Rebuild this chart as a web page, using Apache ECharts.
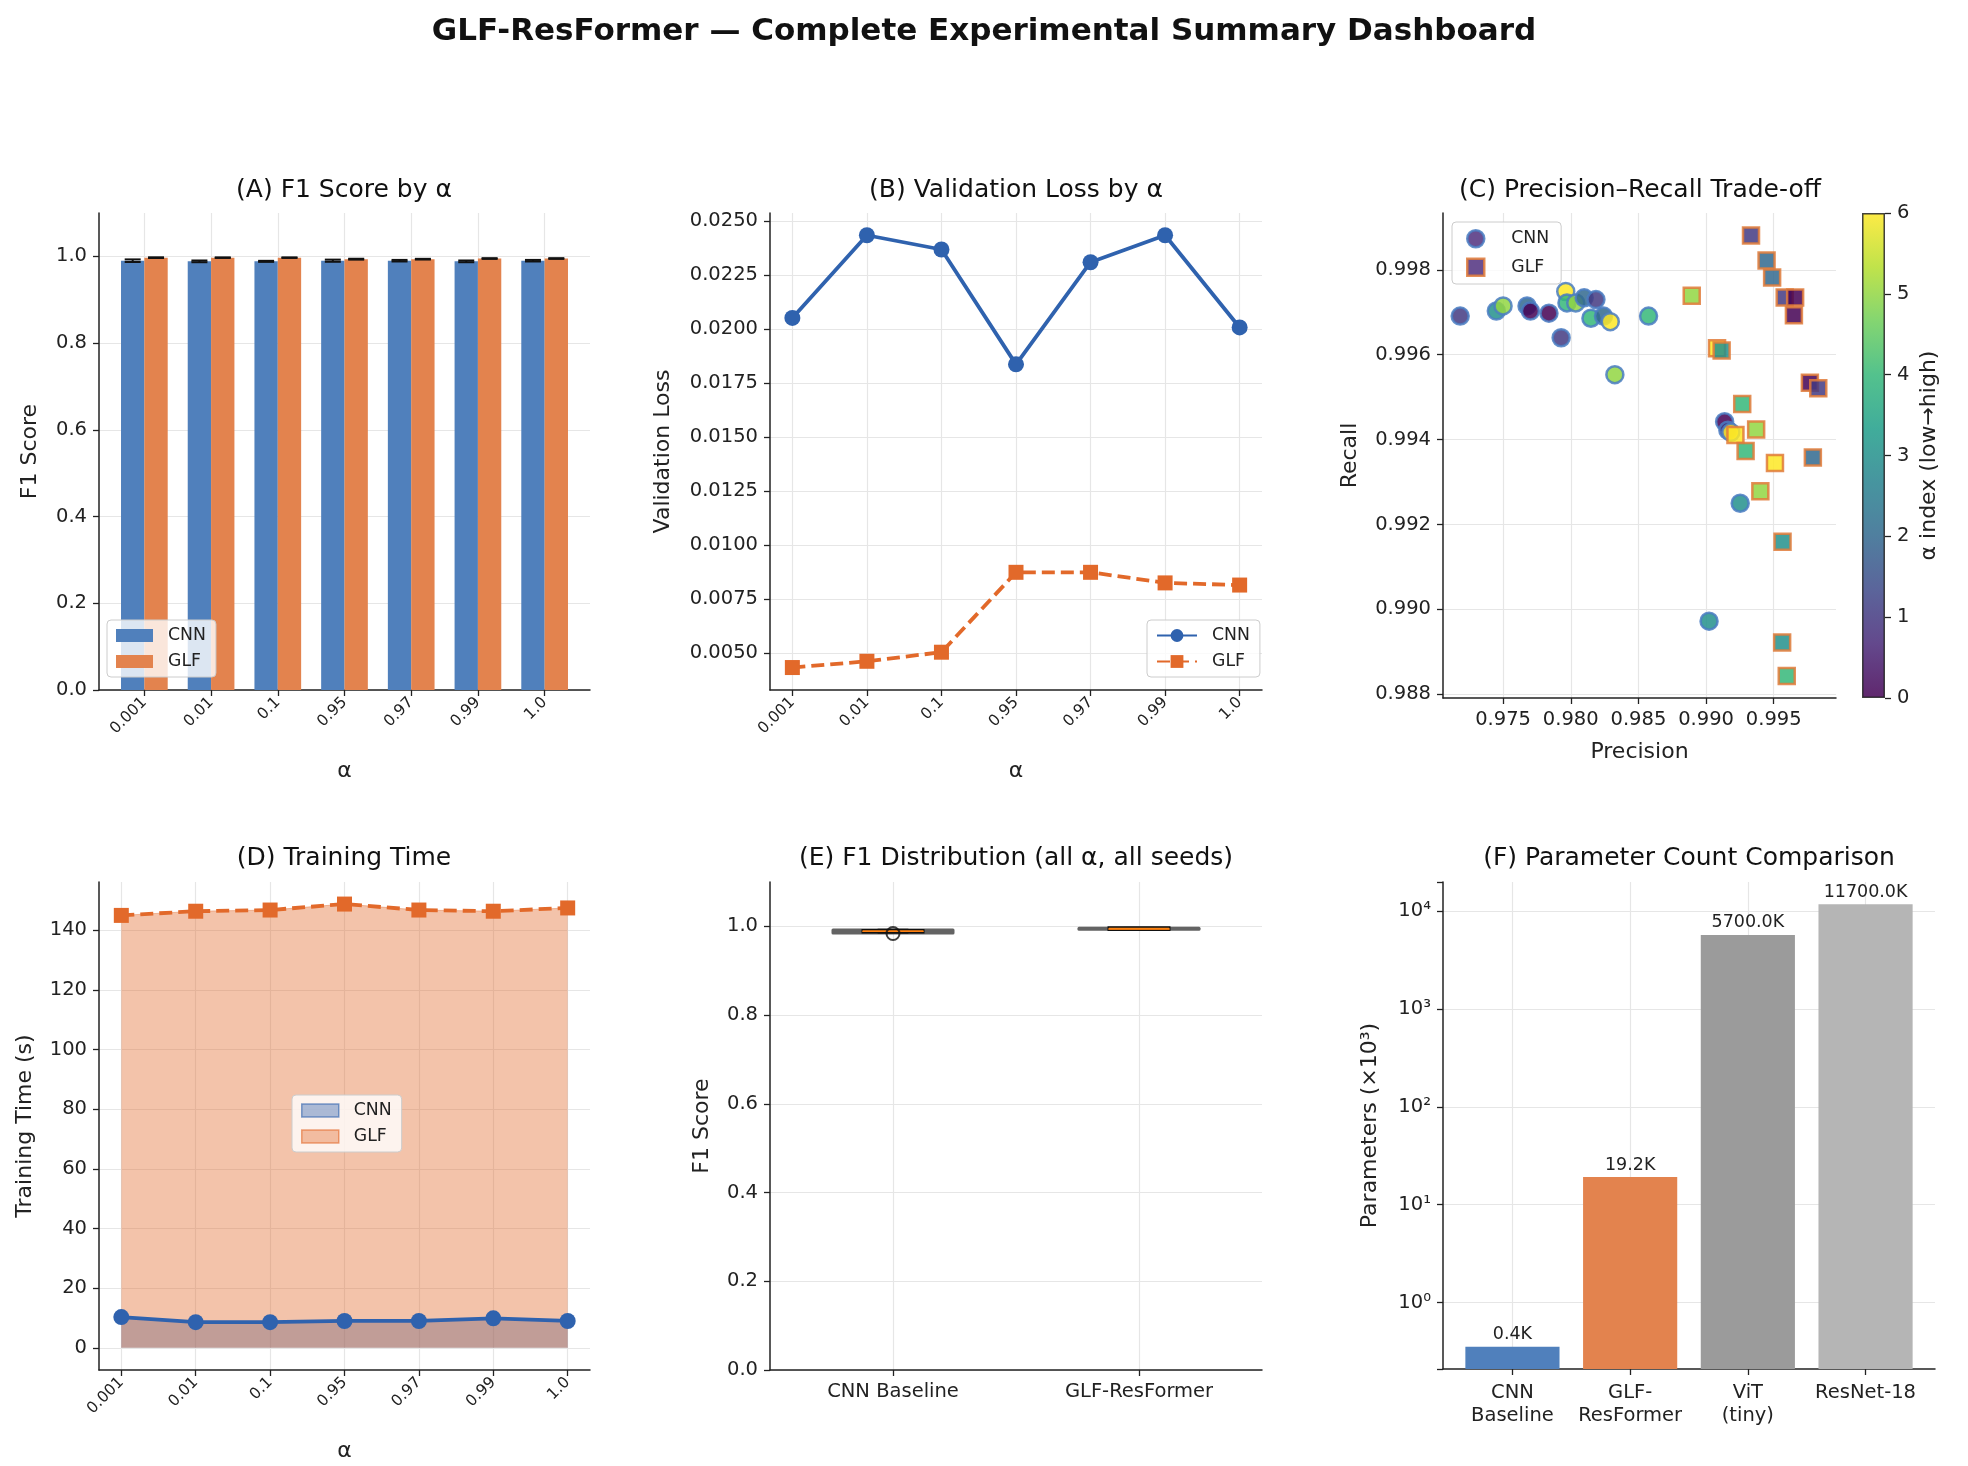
<!DOCTYPE html>
<html>
<head>
<meta charset="utf-8">
<title>GLF-ResFormer — Complete Experimental Summary Dashboard</title>
<script src="https://cdn.jsdelivr.net/npm/echarts@6/dist/echarts.min.js"></script>
<style>
  html, body { margin: 0; padding: 0; background: #fff; }
  #main { width: 1968px; height: 1466px; }
</style>
</head>
<body>
<div id="main"></div>
<script>
// alpha values shared by panels A, B and D
const alphaLabels = ['0.001', '0.01', '0.1', '0.95', '0.97', '0.99', '1.0']

// (A) mean F1 per alpha and std over seeds
const cnnF1Mean = [0.9900, 0.9885, 0.9885, 0.9900, 0.9900, 0.9885, 0.9900]
const cnnF1Std = [0.0030, 0.0020, 0.0012, 0.0025, 0.0018, 0.0020, 0.0018]
const glfF1Mean = [0.9970, 0.9970, 0.9970, 0.9935, 0.9935, 0.9950, 0.9950]
const glfF1Std = [0.0008, 0.0006, 0.0006, 0.0010, 0.0008, 0.0008, 0.0008]
const f1Ticks = [0, 0.2, 0.4, 0.6, 0.8, 1.0]

// (B) validation loss per alpha
const cnnValLoss = [0.02052, 0.02435, 0.02369, 0.01837, 0.02310, 0.02435, 0.02008]
const glfValLoss = [0.00433, 0.00462, 0.00504, 0.00874, 0.00874, 0.00825, 0.00815]
const lossTicks = [0.005, 0.0075, 0.01, 0.0125, 0.015, 0.0175, 0.02, 0.0225, 0.025]

// (C) precision / recall of every run, with its alpha index
const cnnPrecision = [0.97183, 0.97450, 0.97500, 0.97677, 0.97702, 0.97839, 0.97929, 0.97963, 0.97972, 0.98037, 0.98099,
  0.98186, 0.98149, 0.98242, 0.98292, 0.98326, 0.98575, 0.99137, 0.99161, 0.99183, 0.99252, 0.99022]
const cnnRecall = [0.99691, 0.99703, 0.99715, 0.99715, 0.99703, 0.99698, 0.99640, 0.99749, 0.99722, 0.99722, 0.99734,
  0.99730, 0.99686, 0.99691, 0.99678, 0.99553, 0.99691, 0.99442, 0.99422, 0.99417, 0.99250, 0.98972]
const cnnAlphaIdx = [1, 3, 5, 2, 0, 0, 1, 6, 4, 5, 2, 1, 4, 2, 6, 5, 4, 0, 1, 6, 3, 3]
const glfPrecision = [0.99332, 0.99447, 0.99488, 0.99581, 0.99658, 0.99649, 0.98894, 0.99081, 0.99115, 0.99767, 0.99829,
  0.99267, 0.99370, 0.99217, 0.99292, 0.99509, 0.99789, 0.99401, 0.99565, 0.99562, 0.99596]
const glfRecall = [0.99881, 0.99822, 0.99782, 0.99735, 0.99735, 0.99693, 0.99739, 0.99615, 0.99610, 0.99534, 0.99521,
  0.99484, 0.99424, 0.99411, 0.99373, 0.99345, 0.99358, 0.99278, 0.99159, 0.98922, 0.98843]
const glfAlphaIdx = [1, 2, 2, 1, 0, 0, 5, 6, 3, 0, 1, 4, 5, 6, 4, 6, 2, 5, 3, 3, 4]
const precisionTicks = [0.975, 0.980, 0.985, 0.990, 0.995]
const recallTicks = [0.988, 0.990, 0.992, 0.994, 0.996, 0.998]

// (D) training time in seconds
const cnnTrainTime = [10.3, 8.6, 8.6, 9.0, 9.0, 9.9, 9.0]
const glfTrainTime = [145.0, 146.4, 146.8, 148.8, 146.8, 146.4, 147.5]
const timeTicks = [0, 20, 40, 60, 80, 100, 120, 140]

// (E) F1 of every run
const boxModels = ['CNN Baseline', 'GLF-ResFormer']
const cnnF1All = [0.9838, 0.9856, 0.9860, 0.9869, 0.9869, 0.9876, 0.9878, 0.9885, 0.9884, 0.9887, 0.9891,
  0.9895, 0.9891, 0.9896, 0.9898, 0.9894, 0.9913, 0.9929, 0.9929, 0.9930, 0.9925, 0.9900]
const glfF1All = [0.9961, 0.9963, 0.9964, 0.9966, 0.9970, 0.9967, 0.9932, 0.9935, 0.9936, 0.9965, 0.9968,
  0.9938, 0.9940, 0.9931, 0.9933, 0.9943, 0.9957, 0.9934, 0.9936, 0.9924, 0.9922]

// (F) parameter count in thousands
const paramModels = ['CNN\nBaseline', 'GLF-\nResFormer', 'ViT\n(tiny)', 'ResNet-18']
const paramCounts = [0.354, 19.2, 5700, 11700]

// styles
const ink = '#222'
const font = 'DejaVu Sans'
const cnnBar = '#5080BC', glfBar = '#E3834E'
const cnnLine = '#2F62AE', glfLine = '#E2692A'
const paramColors = ['#5080BC', '#E3834E', '#9B9B9B', '#B5B5B5']
const viridis = ['#440154', '#482878', '#3e4989', '#31688e', '#26828e', '#1f9e89', '#35b779', '#6ece58', '#b5de2b', '#fde725']
const sup = ['⁰', '¹', '²', '³', '⁴', '⁵']
const alphaIdx = alphaLabels.map((_, i) => i)

function axis(opt) {
  const a = {
    nameLocation: 'middle',
    nameTextStyle: { color: ink, fontSize: 22, fontFamily: font },
    axisLine: { show: true, onZero: false, lineStyle: { color: ink, width: 1.5 } },
    axisTick: { show: true, length: 6, lineStyle: { color: ink, width: 1.3 } },
    axisLabel: { color: ink, fontSize: 19.5, fontFamily: font, margin: 12 },
    splitLine: { show: true, lineStyle: { color: '#e6e6e6', width: 1.2 } }
  }
  for (let k in opt) {
    if (a[k] && typeof opt[k] === 'object' && !Array.isArray(opt[k])) a[k] = Object.assign({}, a[k], opt[k])
    else a[k] = opt[k]
  }
  return a
}

function alphaAxis(grid, min, max) {
  return axis({
    type: 'value', gridIndex: grid, min: min, max: max, name: 'α', nameGap: 70,
    axisTick: { customValues: alphaIdx },
    axisLabel: { customValues: alphaIdx, rotate: 45, fontSize: 15.5, margin: 10, formatter: v => alphaLabels[Math.round(v)] }
  })
}

function quantile(sorted, q) {
  const pos = (sorted.length - 1) * q
  const lo = Math.floor(pos), hi = Math.ceil(pos)
  return sorted[lo] + (sorted[hi] - sorted[lo]) * (pos - lo)
}

function boxStats(values) {
  const s = values.slice().sort((a, b) => a - b)
  const q1 = quantile(s, 0.25), med = quantile(s, 0.5), q3 = quantile(s, 0.75)
  const lowFence = q1 - 1.5 * (q3 - q1), highFence = q3 + 1.5 * (q3 - q1)
  const inside = s.filter(v => v >= lowFence && v <= highFence)
  return {
    box: [inside[0], q1, med, q3, inside[inside.length - 1]],
    outliers: s.filter(v => v < lowFence || v > highFence),
    range: [s[0], s[s.length - 1]]
  }
}

const cnnStats = boxStats(cnnF1All)
const glfStats = boxStats(glfF1All)

function errorBars(offset) {
  return function (params, api) {
    const x = api.value(0) + offset, m = api.value(1), s = api.value(2)
    const top = api.coord([x, m + s]), bot = api.coord([x, m - s])
    const cap = 8
    const st = { stroke: '#111', lineWidth: 2 }
    return {
      type: 'group', children: [
        { type: 'line', shape: { x1: top[0], y1: top[1], x2: bot[0], y2: bot[1] }, style: st },
        { type: 'line', shape: { x1: top[0] - cap, y1: top[1], x2: top[0] + cap, y2: top[1] }, style: st },
        { type: 'line', shape: { x1: bot[0] - cap, y1: bot[1], x2: bot[0] + cap, y2: bot[1] }, style: st }
      ]
    }
  }
}

function renderViolin(params, api) {
  const x = api.value(0)
  const lo = api.coord([x, api.value(1)]), hi = api.coord([x, api.value(2)])
  const w = api.size([0.5, 0])[0]
  return {
    type: 'rect',
    shape: { x: lo[0] - w / 2, y: hi[1] - 1, width: w, height: Math.max(lo[1] - hi[1], 0) + 2, r: 1.5 },
    style: { fill: 'rgba(72,72,72,0.85)' }
  }
}

function renderBox(params, api) {
  const x = api.value(0)
  const p = [1, 2, 3, 4, 5].map(d => api.coord([x, api.value(d)]))
  const cx = p[0][0]
  const half = api.size([0.25, 0])[0] / 2
  const st = { stroke: '#111', lineWidth: 1.5 }
  return {
    type: 'group', children: [
      { type: 'line', shape: { x1: cx, y1: p[0][1], x2: cx, y2: p[1][1] }, style: st },
      { type: 'line', shape: { x1: cx, y1: p[3][1], x2: cx, y2: p[4][1] }, style: st },
      { type: 'line', shape: { x1: cx - half / 2, y1: p[0][1], x2: cx + half / 2, y2: p[0][1] }, style: st },
      { type: 'line', shape: { x1: cx - half / 2, y1: p[4][1], x2: cx + half / 2, y2: p[4][1] }, style: st },
      { type: 'rect', shape: { x: cx - half, y: p[3][1] - 1, width: half * 2, height: Math.max(p[1][1] - p[3][1], 0) + 2 },
        style: { fill: '#FF8C1A', stroke: '#111', lineWidth: 1.5 } },
      { type: 'line', shape: { x1: cx - half, y1: p[2][1], x2: cx + half, y2: p[2][1] }, style: { stroke: '#FF7F0E', lineWidth: 1.5 } }
    ]
  }
}

function renderParamBar(params, api) {
  const i = api.value(0), v = api.value(1)
  const top = api.coord([i, v])
  const w = api.size([0.8, 0], [i, v])[0]
  const bottom = params.coordSys.y + params.coordSys.height
  return {
    type: 'group', children: [
      { type: 'rect', shape: { x: top[0] - w / 2, y: top[1], width: w, height: bottom - top[1] }, style: { fill: paramColors[i] } },
      { type: 'text', x: top[0], y: top[1] - 3,
        style: { text: v.toFixed(1) + 'K', fill: ink, fontSize: 17.5, fontFamily: font, align: 'center', verticalAlign: 'bottom' } }
    ]
  }
}

const legendBase = {
  orient: 'vertical', selectedMode: false,
  backgroundColor: 'rgba(255,255,255,0.8)', borderColor: '#cccccc', borderWidth: 1, borderRadius: 4,
  padding: [7, 10, 7, 9], itemGap: 9,
  textStyle: { color: ink, fontSize: 17.3, fontFamily: font, padding: [0, 0, 0, 10] },
  formatter: n => n.slice(2)
}

const option = {
  animation: false,
  backgroundColor: '#fff',
  textStyle: { fontFamily: font, color: ink },
  title: [
    { text: 'GLF-ResFormer — Complete Experimental Summary Dashboard', left: 984, top: 16, textAlign: 'center', padding: 0,
      textStyle: { fontSize: 31, fontWeight: 'bold', color: '#111', fontFamily: font } },
    { text: '(A) F1 Score by α', left: 344, top: 178, textAlign: 'center', padding: 0, textStyle: { fontSize: 25, fontWeight: 'normal', color: '#111', fontFamily: font } },
    { text: '(B) Validation Loss by α', left: 1016, top: 178, textAlign: 'center', padding: 0, textStyle: { fontSize: 25, fontWeight: 'normal', color: '#111', fontFamily: font } },
    { text: '(C) Precision–Recall Trade-off', left: 1640, top: 178, textAlign: 'center', padding: 0, textStyle: { fontSize: 25, fontWeight: 'normal', color: '#111', fontFamily: font } },
    { text: '(D) Training Time', left: 344, top: 846, textAlign: 'center', padding: 0, textStyle: { fontSize: 25, fontWeight: 'normal', color: '#111', fontFamily: font } },
    { text: '(E) F1 Distribution (all α, all seeds)', left: 1016, top: 846, textAlign: 'center', padding: 0, textStyle: { fontSize: 25, fontWeight: 'normal', color: '#111', fontFamily: font } },
    { text: '(F) Parameter Count Comparison', left: 1689, top: 846, textAlign: 'center', padding: 0, textStyle: { fontSize: 25, fontWeight: 'normal', color: '#111', fontFamily: font } }
  ],
  grid: [
    { left: 99, top: 213, width: 491, height: 477 },
    { left: 770, top: 213, width: 492, height: 477 },
    { left: 1443, top: 213, width: 393, height: 485 },
    { left: 1862, top: 213, width: 23, height: 485 },
    { left: 99, top: 882, width: 491, height: 488 },
    { left: 770, top: 882, width: 492, height: 488 },
    { left: 1443, top: 882, width: 492, height: 487 }
  ],
  xAxis: [
    alphaAxis(0, -0.68, 6.68),
    alphaAxis(1, -0.3, 6.3),
    axis({
      type: 'value', gridIndex: 2, min: 0.97056, max: 0.9996, name: 'Precision', nameGap: 43,
      axisTick: { customValues: precisionTicks },
      axisLabel: { customValues: precisionTicks, formatter: v => v.toFixed(3) }
    }),
    { type: 'category', gridIndex: 3, data: ['cb'], show: false },
    alphaAxis(4, -0.3, 6.3),
    axis({
      type: 'value', gridIndex: 5, min: 0.5, max: 2.5,
      axisTick: { customValues: [1, 2] },
      axisLabel: { customValues: [1, 2], formatter: v => boxModels[Math.round(v) - 1] }
    }),
    axis({
      type: 'value', gridIndex: 6, min: -0.59, max: 3.59,
      axisTick: { customValues: [0, 1, 2, 3] },
      axisLabel: { customValues: [0, 1, 2, 3], lineHeight: 23, formatter: v => paramModels[Math.round(v)] }
    })
  ],
  yAxis: [
    axis({
      type: 'value', gridIndex: 0, min: 0, max: 1.1, name: 'F1 Score', nameGap: 58,
      axisTick: { customValues: f1Ticks }, axisLabel: { customValues: f1Ticks, formatter: v => v.toFixed(1) }
    }),
    axis({
      type: 'value', gridIndex: 1, min: 0.00329, max: 0.02538, name: 'Validation Loss', nameGap: 96,
      axisTick: { customValues: lossTicks }, axisLabel: { customValues: lossTicks, formatter: v => v.toFixed(4) }
    }),
    axis({
      type: 'value', gridIndex: 2, min: 0.98791, max: 0.99934, name: 'Recall', nameGap: 82,
      axisTick: { customValues: recallTicks }, axisLabel: { customValues: recallTicks, formatter: v => v.toFixed(3) }
    }),
    axis({
      type: 'value', gridIndex: 3, min: 0, max: 6, interval: 1, position: 'right',
      name: 'α index (low→high)', nameRotate: 90, nameGap: 33,
      axisLine: { show: false }, splitLine: { show: false }
    }),
    axis({
      type: 'value', gridIndex: 4, min: -7.44, max: 156.2, name: 'Training Time (s)', nameGap: 63,
      axisTick: { customValues: timeTicks }, axisLabel: { customValues: timeTicks }
    }),
    axis({
      type: 'value', gridIndex: 5, min: 0, max: 1.1, name: 'F1 Score', nameGap: 57,
      axisTick: { customValues: f1Ticks }, axisLabel: { customValues: f1Ticks, formatter: v => v.toFixed(1) }
    }),
    axis({
      type: 'log', logBase: 10, gridIndex: 6, min: 0.21, max: 19800, name: 'Parameters (×10³)', nameGap: 62,
      axisLabel: {
        formatter: v => {
          const e = Math.log10(v), r = Math.round(e)
          return Math.abs(e - r) < 1e-6 ? '10' + (r < 0 ? '⁻' : '') + sup[Math.abs(r)] : ''
        }
      },
      splitLine: { showMinLine: false, showMaxLine: false }
    })
  ],
  visualMap: {
    type: 'continuous', show: false, min: 0, max: 6, dimension: 2, seriesIndex: [6, 7],
    inRange: { color: viridis }
  },
  legend: [
    Object.assign({}, legendBase, {
      left: 107, top: 620, itemWidth: 37, itemHeight: 13,
      data: [{ name: 'A_CNN', icon: 'rect' }, { name: 'A_GLF', icon: 'rect' }]
    }),
    Object.assign({}, legendBase, {
      left: 1147, top: 620, itemWidth: 40, itemHeight: 16,
      data: ['B_CNN', 'B_GLF']
    }),
    Object.assign({}, legendBase, {
      left: 1452, top: 222, itemWidth: 17, itemHeight: 17, padding: [7, 12, 7, 14],
      textStyle: { color: ink, fontSize: 17.3, fontFamily: font, padding: [0, 0, 0, 22] },
      data: [
        { name: 'C_CNN', icon: 'circle', itemStyle: { color: '#50307f', borderColor: '#4A7CC2', borderWidth: 2.5 } },
        { name: 'C_GLF', icon: 'rect', itemStyle: { color: '#50307f', borderColor: '#E07B39', borderWidth: 2.5 } }
      ]
    }),
    Object.assign({}, legendBase, {
      left: 292, top: 1095, itemWidth: 37, itemHeight: 13,
      data: [
        { name: 'D_CNN', icon: 'rect', itemStyle: { color: 'rgba(47,98,174,0.4)', borderColor: 'rgba(47,98,174,0.6)', borderWidth: 1.5 } },
        { name: 'D_GLF', icon: 'rect', itemStyle: { color: 'rgba(226,105,42,0.4)', borderColor: 'rgba(226,105,42,0.6)', borderWidth: 1.5 } }
      ]
    })
  ],
  series: [
    // (A) 0-3
    { name: 'A_CNN', type: 'bar', xAxisIndex: 0, yAxisIndex: 0, barWidth: '35%', barGap: '0%',
      itemStyle: { color: cnnBar }, data: cnnF1Mean.map((v, i) => [i, v]) },
    { name: 'A_GLF', type: 'bar', xAxisIndex: 0, yAxisIndex: 0, barWidth: '35%', barGap: '0%',
      itemStyle: { color: glfBar }, data: glfF1Mean.map((v, i) => [i, v]) },
    { name: 'A_CNN_err', type: 'custom', xAxisIndex: 0, yAxisIndex: 0, z: 3, renderItem: errorBars(-0.175),
      data: cnnF1Mean.map((v, i) => [i, v, cnnF1Std[i]]) },
    { name: 'A_GLF_err', type: 'custom', xAxisIndex: 0, yAxisIndex: 0, z: 3, renderItem: errorBars(0.175),
      data: glfF1Mean.map((v, i) => [i, v, glfF1Std[i]]) },
    // (B) 4-5
    { name: 'B_CNN', type: 'line', xAxisIndex: 1, yAxisIndex: 1, symbol: 'circle', symbolSize: 16,
      itemStyle: { color: cnnLine }, lineStyle: { color: cnnLine, width: 3.8 },
      data: cnnValLoss.map((v, i) => [i, v]) },
    { name: 'B_GLF', type: 'line', xAxisIndex: 1, yAxisIndex: 1, symbol: 'rect', symbolSize: 15,
      itemStyle: { color: glfLine }, lineStyle: { color: glfLine, width: 3.8, type: [13, 6] },
      data: glfValLoss.map((v, i) => [i, v]) },
    // (C) 6-7
    { name: 'C_CNN', type: 'scatter', xAxisIndex: 2, yAxisIndex: 2, symbol: 'circle', symbolSize: 17,
      itemStyle: { borderColor: '#4A7CC2', borderWidth: 2.5, opacity: 0.85 },
      data: cnnPrecision.map((p, i) => [p, cnnRecall[i], cnnAlphaIdx[i]]) },
    { name: 'C_GLF', type: 'scatter', xAxisIndex: 2, yAxisIndex: 2, symbol: 'rect', symbolSize: 16,
      itemStyle: { borderColor: '#E07B39', borderWidth: 2.5, opacity: 0.85 },
      data: glfPrecision.map((p, i) => [p, glfRecall[i], glfAlphaIdx[i]]) },
    // colorbar 8
    { name: 'colorbar', type: 'bar', xAxisIndex: 3, yAxisIndex: 3, barWidth: '100%', data: [6],
      itemStyle: {
        opacity: 0.85, borderColor: ink, borderWidth: 1.5,
        color: new echarts.graphic.LinearGradient(0, 1, 0, 0, viridis.map((c, i) => ({ offset: i / (viridis.length - 1), color: c })))
      } },
    // (D) 9-12
    { name: 'D_CNN', type: 'line', xAxisIndex: 4, yAxisIndex: 4, symbol: 'none', z: 1,
      lineStyle: { width: 0 }, itemStyle: { color: cnnLine }, areaStyle: { color: 'rgba(47,98,174,0.4)', opacity: 1 },
      data: cnnTrainTime.map((v, i) => [i, v]) },
    { name: 'D_GLF', type: 'line', xAxisIndex: 4, yAxisIndex: 4, symbol: 'none', z: 1,
      lineStyle: { width: 1, color: 'rgba(226,105,42,0.4)' }, itemStyle: { color: glfLine }, areaStyle: { color: 'rgba(226,105,42,0.4)', opacity: 1 },
      data: glfTrainTime.map((v, i) => [i, v]) },
    { name: 'D_CNN_line', type: 'line', xAxisIndex: 4, yAxisIndex: 4, symbol: 'circle', symbolSize: 16, z: 3,
      itemStyle: { color: cnnLine }, lineStyle: { color: cnnLine, width: 3.8 },
      data: cnnTrainTime.map((v, i) => [i, v]) },
    { name: 'D_GLF_line', type: 'line', xAxisIndex: 4, yAxisIndex: 4, symbol: 'rect', symbolSize: 15, z: 3,
      itemStyle: { color: glfLine }, lineStyle: { color: glfLine, width: 3.8, type: [13, 6] },
      data: glfTrainTime.map((v, i) => [i, v]) },
    // (E) 13-15
    { name: 'E_violin', type: 'custom', xAxisIndex: 5, yAxisIndex: 5, renderItem: renderViolin,
      data: [[1].concat(cnnStats.range), [2].concat(glfStats.range)] },
    { name: 'E_box', type: 'custom', xAxisIndex: 5, yAxisIndex: 5, z: 3, renderItem: renderBox,
      data: [[1].concat(cnnStats.box), [2].concat(glfStats.box)] },
    { name: 'E_out', type: 'scatter', xAxisIndex: 5, yAxisIndex: 5, z: 4, symbol: 'circle', symbolSize: 13,
      itemStyle: { color: 'rgba(0,0,0,0)', borderColor: '#111', borderWidth: 2 },
      data: cnnStats.outliers.map(v => [1, v]).concat(glfStats.outliers.map(v => [2, v])) },
    // (F) 16
    { name: 'F_params', type: 'custom', xAxisIndex: 6, yAxisIndex: 6, renderItem: renderParamBar,
      data: paramCounts.map((v, i) => [i, v]) }
  ]
}

const chart = echarts.init(document.getElementById('main'))
chart.setOption(option)
</script>
</body>
</html>
